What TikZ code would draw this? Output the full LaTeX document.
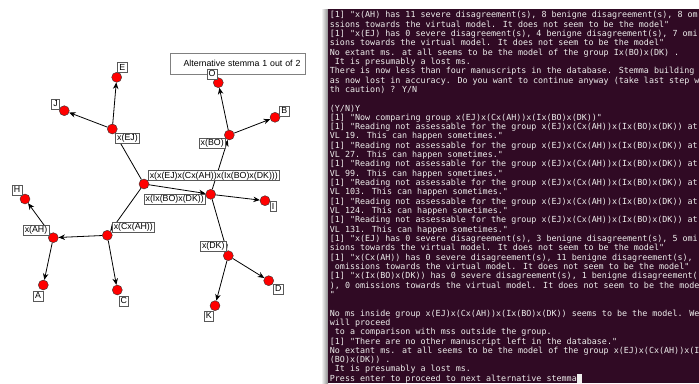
\documentclass[tikz,border=0pt]{standalone}
\usepackage{fontspec}
\setmainfont{Liberation Sans}
\newfontfamily\termfont{DejaVu Sans Mono}
\usetikzlibrary{arrows.meta}
\definecolor{termbg}{HTML}{300A24}
\definecolor{termfg}{HTML}{EEEEEC}
\tikzset{
  ms/.style={circle, draw=black!80, fill=red, minimum size=10pt, inner sep=0pt, line width=0.4pt},
  tag/.style={draw=black!65, fill=white, line width=0.4pt, font=\fontsize{8.8}{10}\selectfont,
    inner xsep=1.8pt, inner ysep=0.8pt, text height=6.8pt, text depth=1.6pt},
  termtext/.style={anchor=base west, inner sep=0pt, text=termfg,
    font=\termfont\fontsize{8.37}{9.32}\selectfont},
}
\begin{document}
\begin{tikzpicture}[x=1pt, y=-1pt, >={Stealth[length=6.5pt,width=5.5pt]}, thick]
\useasboundingbox (0,0) rectangle (699,383);
\fill[white] (0,0) rectangle (699,383);
\shade[left color=black!6, right color=black!45] (322,9) rectangle (328,383);
\fill[termbg] (328,9) rectangle (699,383);

% stemma
\node[ms] (E) at (116.7,77.3) {};
\node[ms] (J) at (64.3,110.7) {};
\node[ms] (EJ) at (112.3,129) {};
\node[ms] (O) at (218.3,82.7) {};
\node[ms] (B) at (275,117.3) {};
\node[ms] (BO) at (229.3,135) {};
\node[ms] (root) at (144,184) {};
\node[ms] (IBODK) at (210.7,194.3) {};
\node[ms] (I) at (265,200.7) {};
\node[ms] (H) at (25,199) {};
\node[ms] (CAH) at (107.3,235.3) {};
\node[ms] (AH) at (53.3,237.7) {};
\node[ms] (A) at (43.3,285) {};
\node[ms] (C) at (117.3,290) {};
\node[ms] (DK) at (228.3,255.7) {};
\node[ms] (D) at (268.7,280.7) {};
\node[ms] (K) at (215,305.7) {};

\draw [->](root)--(EJ);
\draw [->](root)--(CAH);
\draw [->](root)--(IBODK);
\draw [->](EJ)--(E);
\draw [->](EJ)--(J);
\draw [->](IBODK)--(BO);
\draw [->](IBODK)--(I);
\draw [->](IBODK)--(DK);
\draw [->](BO)--(O);
\draw [->](BO)--(B);
\draw [->](CAH)--(AH);
\draw [->](CAH)--(C);
\draw [->](AH)--(H);
\draw [->](AH)--(A);
\draw [->](DK)--(D);
\draw [->](DK)--(K);

\node[draw=black!50, fill=white, line width=0.4pt, font=\fontsize{8.8}{10}\selectfont,
  minimum height=21pt, text width=126pt, align=right, inner xsep=4.5pt] (alt) at (237.5,63.3)
  {Alternative stemma 1 out of 2};

\node[tag] (tE) at (122.3,67.5) {E};
\node[tag] (tJ) at (55.5,104) {J};
\node[tag] (tEJ) at (127.5,138) {x(EJ)};
\node[tag] (tO) at (212,74) {O};
\node[tag] (tB) at (284.2,110.7) {B};
\node[tag] (tBO) at (212.2,143.3) {x(BO)};
\node[tag] (troot) at (213.8,175.5) {x(x(EJ)x(Cx(AH))x(Ix(BO)x(DK)))};
\node[tag] (tIBODK) at (174.7,199.3) {x(Ix(BO)x(DK))};
\node[tag] (tI) at (273,206.5) {I};
\node[tag] (tH) at (17,190.3) {H};
\node[tag] (tCAH) at (133.3,226.7) {x(Cx(AH))};
\node[tag] (tAH) at (36,230) {x(AH)};
\node[tag] (tA) at (38,295.8) {A};
\node[tag] (tC) at (123.7,300.7) {C};
\node[tag] (tDK) at (213.3,246) {x(DK)};
\node[tag] (tD) at (278.3,289) {D};
\node[tag] (tK) at (208.7,316) {K};

% terminal
\foreach \termline [count=\k] in {
  {[1] "x(AH) has 11 severe disagreement(s), 8 benigne disagreement(s), 8 om},
  {ssions towards the virtual model. It does not seem to be the model"},
  {[1] "x(EJ) has 0 severe disagreement(s), 4 benigne disagreement(s), 7 omi},
  {sions towards the virtual model. It does not seem to be the model"},
  {No extant ms. at all seems to be the model of the group Ix(BO)x(DK) .},
  {\ It is presumably a lost ms.},
  {There is now less than four manuscripts in the database. Stemma building},
  {as now lost in accuracy. Do you want to continue anyway (take last step w},
  {th caution) ? Y/N},
  {},
  {(Y/N)Y},
  {[1] "Now comparing group x(EJ)x(Cx(AH))x(Ix(BO)x(DK))"},
  {[1] "Reading not assessable for the group x(EJ)x(Cx(AH))x(Ix(BO)x(DK)) at},
  {VL 19. This can happen sometimes."},
  {[1] "Reading not assessable for the group x(EJ)x(Cx(AH))x(Ix(BO)x(DK)) at},
  {VL 27. This can happen sometimes."},
  {[1] "Reading not assessable for the group x(EJ)x(Cx(AH))x(Ix(BO)x(DK)) at},
  {VL 99. This can happen sometimes."},
  {[1] "Reading not assessable for the group x(EJ)x(Cx(AH))x(Ix(BO)x(DK)) at},
  {VL 103. This can happen sometimes."},
  {[1] "Reading not assessable for the group x(EJ)x(Cx(AH))x(Ix(BO)x(DK)) at},
  {VL 124. This can happen sometimes."},
  {[1] "Reading not assessable for the group x(EJ)x(Cx(AH))x(Ix(BO)x(DK)) at},
  {VL 131. This can happen sometimes."},
  {[1] "x(EJ) has 0 severe disagreement(s), 3 benigne disagreement(s), 5 omi},
  {sions towards the virtual model. It does not seem to be the model"},
  {[1] "x(Cx(AH)) has 0 severe disagreement(s), 11 benigne disagreement(s),},
  {\ omissions towards the virtual model. It does not seem to be the model"},
  {[1] "x(Ix(BO)x(DK)) has 0 severe disagreement(s), 1 benigne disagreement(},
  {), 0 omissions towards the virtual model. It does not seem to be the mode},
  {"},
  {},
  {No ms inside group x(EJ)x(Cx(AH))x(Ix(BO)x(DK)) seems to be the model. We},
  {will proceed},
  {\ to a comparison with mss outside the group.},
  {[1] "There are no other manuscript left in the database."},
  {No extant ms. at all seems to be the model of the group x(EJ)x(Cx(AH))x(I},
  {(BO)x(DK)) .},
  {\ It is presumably a lost ms.},
  {Press enter to proceed to next alternative stemma\rule[-1.6pt]{5pt}{8.8pt}}}
  \node[termtext] (line\k) at (329.5,{17.8+(\k-1)*9.32}) {\termline};
\end{tikzpicture}
\end{document}
